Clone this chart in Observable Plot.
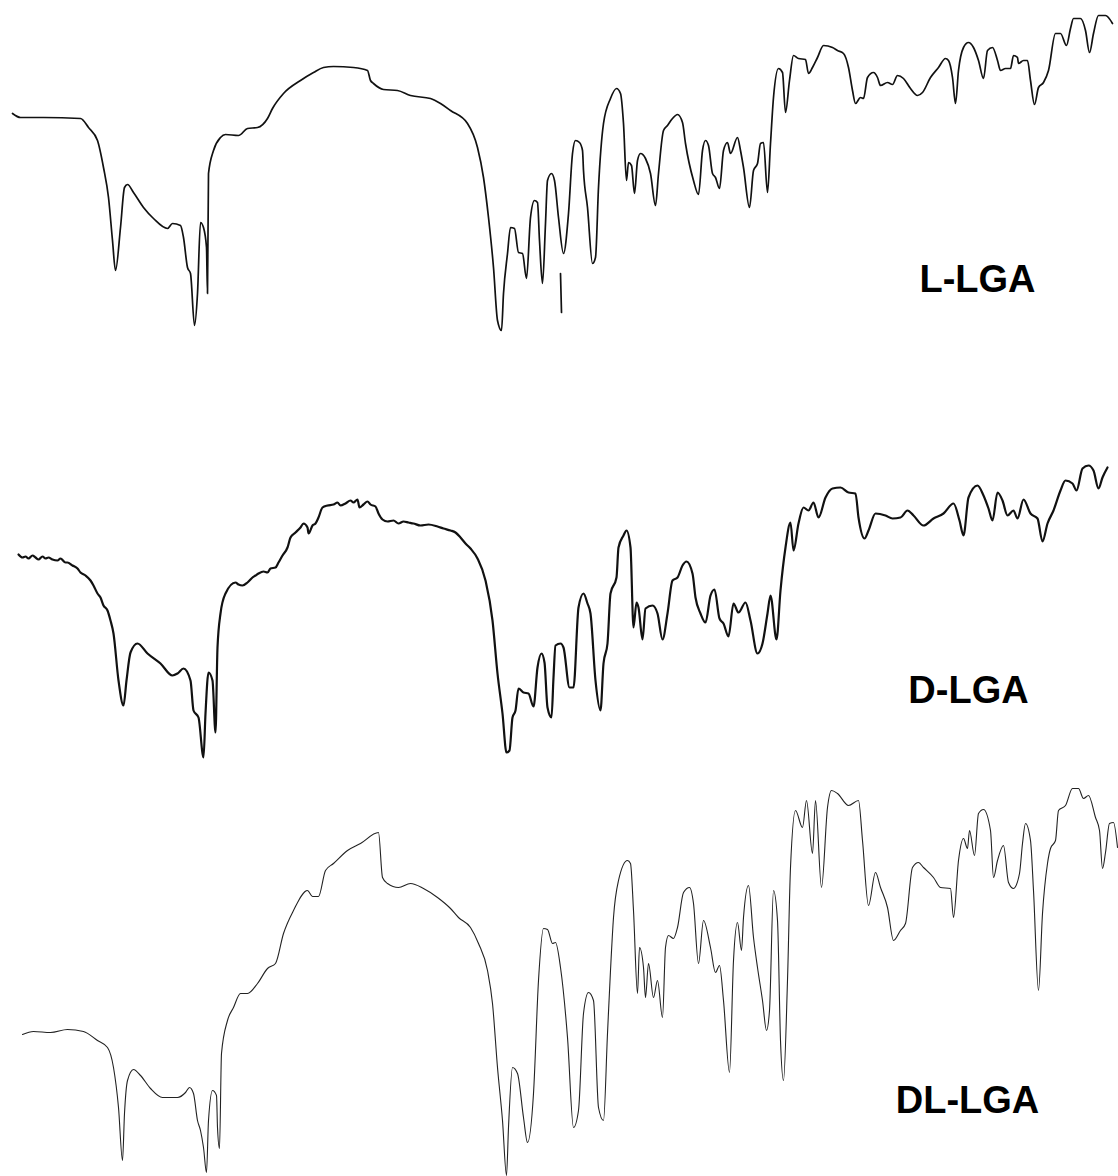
<!DOCTYPE html>
<html>
<head>
<meta charset="utf-8">
<script src="https://cdn.jsdelivr.net/npm/d3@7"></script>
<script src="https://cdn.jsdelivr.net/npm/@observablehq/plot@0.6"></script>
<style>
  html, body { margin: 0; padding: 0; background: #fff; }
  #chart svg { display: block; }
</style>
</head>
<body>
<div id="chart"></div>
<script>
// Spectrum traces as [abscissa, offset ordinate] pairs
const lLGA = [[12,113],[20,117],[43,117],[80,118],[88,127],[97,140],[103,167],[108,197],[112,240],[115,270],[120,227],[124,187],[127,184],[133,192],[143,207],[153,218],[167,228],[172,223],[180,225],[183,237],[187,267],[190,273],[194,325],[197,293],[200,222],[203,227],[206,247],[207,293],[208,173],[213,150],[220,137],[225,134],[238,135],[247,128],[257,127],[267,118],[272,108],[283,93],[300,80],[313,72],[323,67],[333,66],[353,67],[367,70],[370,80],[373,83],[383,89],[397,90],[410,95],[430,98],[440,103],[450,110],[467,123],[477,147],[483,177],[488,217],[493,267],[497,320],[501,330],[503,293],[507,253],[510,227],[514,228],[518,252],[522,253],[526,278],[530,217],[534,200],[537,202],[539,240],[542,283],[545,223],[547,180],[551,173],[554,180],[558,217],[563,253],[568,213],[572,153],[575,140],[579,142],[582,150],[583,170],[587,207],[592,263],[595,257],[598,187],[603,123],[610,98],[616,88],[620,93],[623,123],[626,180],[628,162],[631,165],[634,193],[637,160],[640,153],[645,158],[650,173],[655,205],[658,173],[663,130],[667,125],[672,118],[677,114],[682,122],[685,143],[693,180],[698,194],[702,150],[705,140],[708,145],[712,173],[715,177],[719,188],[723,150],[727,142],[730,153],[737,137],[740,150],[743,167],[749,207],[753,170],[757,163],[760,143],[763,142],[767,192],[770,143],[773,97],[778,68],[782,72],[785,112],[789,80],[793,55],[798,58],[805,59],[808,73],[812,67],[817,57],[823,45],[832,47],[837,50],[843,53],[848,67],[852,90],[855,103],[860,97],[863,98],[867,77],[873,72],[877,77],[880,85],[887,82],[892,84],[897,75],[903,78],[910,88],[917,95],[922,92],[930,77],[938,67],[945,58],[948,60],[952,77],[955,103],[958,70],[963,47],[968,42],[973,47],[978,60],[983,78],[987,50],[992,47],[997,60],[1000,70],[1005,68],[1010,68],[1013,55],[1017,57],[1018,63],[1023,60],[1027,60],[1030,80],[1034,104],[1038,87],[1043,82],[1048,70],[1055,33],[1060,33],[1066,45],[1070,28],[1073,18],[1080,18],[1085,30],[1089,52],[1093,33],[1098,15],[1105,15],[1112,23]];
const lLGAFragment = [[560,273],[561,312]];

const dLGA = [[18,554],[22,557],[25,556],[28,558],[32,555],[35,557],[38,559],[42,556],[45,558],[48,557],[52,559],[57,560],[60,558],[65,562],[67,562],[72,565],[77,568],[80,572],[85,575],[90,580],[93,585],[97,593],[100,597],[103,605],[107,610],[110,620],[113,633],[118,680],[123,705],[126,680],[130,652],[137,643],[147,653],[160,663],[172,675],[177,673],[183,668],[190,680],[193,710],[198,717],[203,757],[205,713],[208,672],[212,680],[215,732],[217,647],[220,613],[225,593],[235,582],[238,584],[242,585],[247,582],[252,577],[255,575],[258,573],[263,571],[267,572],[270,568],[275,567],[278,562],[282,555],[287,547],[290,537],[295,532],[300,527],[303,523],[307,527],[308,533],[312,525],[315,523],[318,517],[322,507],[327,505],[333,504],[337,502],[340,505],[345,503],[350,500],[353,502],[357,499],[359,507],[363,504],[367,501],[370,504],[375,506],[378,513],[382,519],[387,521],[393,520],[398,523],[403,521],[408,522],[413,523],[420,525],[428,524],[437,526],[443,528],[450,530],[455,532],[460,537],[465,543],[470,548],[477,558],[485,580],[492,620],[497,673],[502,713],[506,752],[509,750],[512,717],[515,710],[518,688],[523,692],[528,693],[533,706],[537,667],[541,653],[544,662],[547,707],[551,717],[553,677],[555,645],[560,643],[563,647],[569,687],[573,687],[578,607],[583,593],[587,603],[590,613],[595,680],[600,710],[603,663],[607,643],[610,593],[616,577],[618,547],[623,535],[626,530],[630,547],[633,627],[636,602],[638,607],[642,639],[645,608],[652,605],[657,613],[662,639],[667,613],[672,580],[677,577],[682,565],[686,561],[692,573],[695,597],[700,613],[705,622],[710,595],[714,589],[719,618],[723,623],[728,636],[733,603],[738,612],[745,602],[750,620],[757,653],[762,643],[767,613],[770,595],[776,639],[780,590],[785,547],[790,522],[793,550],[798,523],[803,507],[808,510],[813,502],[818,517],[825,497],[832,488],[840,487],[848,492],[855,493],[858,517],[864,538],[868,530],[875,513],[885,515],[892,518],[900,517],[907,510],[913,515],[923,525],[933,518],[943,513],[953,503],[959,520],[963,535],[968,497],[977,485],[983,495],[988,508],[992,520],[997,492],[1002,500],[1007,515],[1013,510],[1017,518],[1023,499],[1030,513],[1037,518],[1042,541],[1047,523],[1053,510],[1060,490],[1065,480],[1072,483],[1076,490],[1082,468],[1088,465],[1093,470],[1098,488],[1102,477],[1107,467]];

const dlLGA = [[22,1034],[33,1031],[50,1032],[67,1029],[83,1031],[97,1040],[107,1047],[113,1067],[118,1107],[122,1160],[124,1113],[127,1080],[133,1069],[140,1075],[150,1088],[162,1097],[177,1097],[185,1092],[189,1087],[193,1093],[197,1120],[200,1130],[203,1147],[206,1172],[208,1120],[212,1090],[216,1095],[217,1127],[219,1148],[221,1053],[227,1020],[233,1007],[240,993],[247,993],[257,983],[267,968],[275,963],[283,933],[293,910],[307,890],[312,896],[318,896],[325,870],[333,863],[347,850],[360,843],[378,832],[382,877],[387,883],[398,887],[410,883],[423,888],[437,897],[450,908],[458,917],[470,927],[478,943],[487,970],[492,1003],[497,1067],[502,1120],[506,1175],[508,1127],[512,1067],[517,1073],[523,1117],[527,1142],[533,1093],[538,980],[543,928],[547,929],[552,943],[555,942],[560,967],[567,1037],[573,1127],[578,1110],[583,1013],[588,992],[593,1000],[598,1107],[603,1120],[607,1033],[610,970],[613,917],[618,880],[627,860],[630,863],[633,910],[637,993],[639,947],[643,967],[645,997],[648,963],[653,997],[657,980],[662,1017],[665,947],[668,935],[673,938],[677,927],[683,892],[689,887],[693,903],[698,963],[703,920],[710,947],[715,972],[719,965],[723,1000],[729,1072],[733,960],[737,922],[741,950],[743,917],[748,885],[753,937],[757,967],[762,1000],[766,1030],[769,1010],[773,890],[777,920],[780,1040],[783,1080],[787,980],[790,867],[795,810],[802,827],[806,800],[812,853],[815,800],[821,887],[827,807],[831,790],[837,793],[848,805],[858,800],[862,840],[868,905],[875,872],[880,887],[887,907],[893,940],[900,930],[905,923],[912,867],[918,862],[923,867],[933,877],[940,887],[950,888],[953,917],[958,860],[963,838],[967,848],[969,830],[974,855],[978,813],[983,809],[990,830],[993,877],[997,860],[1003,845],[1008,882],[1013,888],[1019,873],[1022,843],[1025,823],[1030,840],[1033,890],[1038,990],[1042,913],[1047,863],[1050,848],[1055,840],[1058,810],[1065,805],[1072,788],[1078,788],[1083,798],[1088,795],[1095,817],[1099,830],[1102,868],[1105,852],[1109,823],[1113,822],[1117,847]];

const sampleNames = ["L-LGA", "D-LGA", "DL-LGA"];
const nameAnchors = [[977, 291], [968, 702], [967, 1112]];

const labelData = sampleNames.map((name, i) => ({name, x: nameAnchors[i][0], y: nameAnchors[i][1]}));

const chart = Plot.plot({
  width: 1118,
  height: 1176,
  margin: 0,
  x: {domain: [0, 1118], axis: null},
  y: {domain: [0, 1176], reverse: true, axis: null},
  marks: [
    Plot.line(lLGA, {x: d => d[0], y: d => d[1], stroke: "#111", strokeWidth: 1.7, curve: "monotone-x"}),
    Plot.line(lLGAFragment, {x: d => d[0], y: d => d[1], stroke: "#111", strokeWidth: 1.7}),
    Plot.line(dLGA, {x: d => d[0], y: d => d[1], stroke: "#111", strokeWidth: 2.2, curve: "monotone-x"}),
    Plot.line(dlLGA, {x: d => d[0], y: d => d[1], stroke: "#222", strokeWidth: 1.1, curve: "monotone-x"}),
    Plot.text(labelData, {x: "x", y: "y", text: "name", textAnchor: "middle", lineAnchor: "bottom",
      fontSize: 38, fontWeight: "bold", fontFamily: "Liberation Sans, Arial, sans-serif", fill: "#000"})
  ]
});
document.getElementById("chart").appendChild(chart);
</script>
</body>
</html>
